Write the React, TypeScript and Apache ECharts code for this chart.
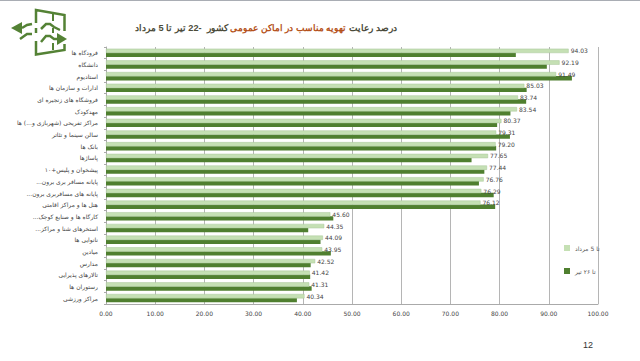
import React, { useEffect, useRef } from "react";
import * as echarts from "echarts";

const categories = [
  "فرودگاه ها", "دانشگاه", "استادیوم", "ادارات و سازمان ها", "فروشگاه های زنجیره ای", "مهدکودک",
  "مراکز تفریحی (شهربازی و...) ها", "سالن سینما و تئاتر", "بانک ها", "پاساژها", "پیشخوان و پلیس+۱۰",
  "پایانه مسافر بری برون...\u200f", "پایانه های مسافربری برون...\u200f", "هتل ها و مراکز اقامتی",
  "کارگاه ها و صنایع کوچک...\u200f", "استخرهای شنا و مراکز...\u200f", "نانوایی ها", "میادین", "مدارس",
  "تالارهای پذیرایی", "رستوران ها", "مراکز ورزشی",
];
const lightValues = [94.03, 92.19, 91.49, 85.03, 83.74, 83.54, 80.37, 79.31, 79.2, 77.65, 77.44, 76.76, 76.29, 76.12, 45.6, 44.35, 44.09, 43.95, 42.52, 41.42, 41.31, 40.34];
const darkValues = [83.3, 89.6, 94.7, 85.5, 85.4, 82.2, 79.5, 82.1, 79.3, 74.3, 76.9, 75.8, 78.8, 79.1, 46.2, 41.1, 43.6, 45.7, 41.6, 41.5, 41.8, 38.8];
const lightName = "تا 5 مرداد";
const darkName = "تا ۲۶ تیر";

const GREEN = "#548235";
const LIGHT = "#c5e0b4";
const DARK = "#4f7f2f";

export default function App() {
  const ref = useRef<HTMLDivElement>(null);
  useEffect(() => {
    const chart = echarts.init(ref.current!, undefined, { renderer: "svg" });
    chart.setOption({
      animation: false,
      backgroundColor: "#ffffff",
      textStyle: { fontFamily: "DejaVu Sans" },
      title: {
        left: 130,
        top: 18,
        text: "{d|تیر تا 5 مرداد}{d| 22}{d|-  }{d|کشور }{o|تهویه مناسب در اماکن عمومی}{d| درصد رعایت}",
        textStyle: {
          rich: {
            d: { fontSize: 9.2, fontWeight: "bold", color: "#4b4b3a", fontFamily: "Liberation Sans" },
            o: { fontSize: 9.2, fontWeight: "bold", color: "#b5521b", fontFamily: "Liberation Sans" },
          },
        },
      },
      legend: {
        orient: "vertical",
        left: 559,
        top: 240,
        itemWidth: 6,
        itemHeight: 6,
        itemGap: 17,
        itemStyle: { borderWidth: 0 },
        textStyle: { fontSize: 6, color: "#555" },
        data: [
          { name: lightName, icon: "rect" },
          { name: darkName, icon: "rect" },
        ],
      },
      grid: { left: 106, right: 42, top: 47, bottom: 57, containLabel: false },
      xAxis: {
        type: "value",
        min: 0,
        max: 100,
        interval: 10,
        axisLine: { show: true, lineStyle: { color: "#aaa" } },
        axisTick: { show: false },
        splitLine: { show: true, lineStyle: { color: "#b5b5b5", width: 1 } },
        axisLabel: {
          fontSize: 6,
          color: "#444",
          margin: 6,
          formatter: (v: number) => v.toFixed(2),
        },
      },
      yAxis: {
        type: "category",
        inverse: true,
        data: categories,
        axisLine: { show: true, lineStyle: { color: "#aaa" } },
        axisTick: { show: true, length: 2, lineStyle: { color: "#aaa" } },
        axisLabel: { fontSize: 6, color: "#444", margin: 8, interval: 0 },
      },
      series: [
        {
          name: lightName,
          type: "bar",
          data: lightValues,
          barWidth: 4.4,
          barGap: "-10%",
          itemStyle: { color: LIGHT, borderColor: "#a9c79a", borderWidth: 0.5 },
          label: {
            show: true,
            position: "right",
            distance: 2,
            fontSize: 6,
            color: "#444",
            formatter: (p: any) => p.value.toFixed(2),
          },
          z: 3,
        },
        {
          name: darkName,
          type: "bar",
          data: darkValues,
          barWidth: 4.4,
          itemStyle: { color: DARK },
          z: 2,
        },
      ],
      graphic: [
        { type: "rect", shape: { x: 0, y: 0, width: 640, height: 1 }, style: { fill: "#a9adb4" } },
        { type: "text", left: 583, top: 340, style: { text: "12", fontSize: 9, fill: "#333" } },
        {
          type: "polyline",
          shape: { points: [[36, 23], [36, 10], [64.5, 15], [64.5, 31]] },
          style: { stroke: GREEN, fill: "none", lineWidth: 2.5 },
        },
        {
          type: "polyline",
          shape: { points: [[36, 41], [36, 54.5], [64.5, 50], [64.5, 44]] },
          style: { stroke: GREEN, fill: "none", lineWidth: 2.5 },
        },
        {
          type: "polyline",
          shape: { points: [[36, 28], [36, 33]] },
          style: { stroke: GREEN, fill: "none", lineWidth: 2.5 },
        },
        {
          type: "polyline",
          shape: { points: [[53, 14], [53, 21]] },
          style: { stroke: GREEN, fill: "none", lineWidth: 2 },
        },
        {
          type: "polyline",
          shape: { points: [[53, 28], [53, 33]] },
          style: { stroke: GREEN, fill: "none", lineWidth: 2 },
        },
        {
          type: "polyline",
          shape: { points: [[53, 43], [53, 50]] },
          style: { stroke: GREEN, fill: "none", lineWidth: 2 },
        },
        {
          type: "polyline",
          shape: { points: [[32, 24], [27, 25], [22, 28]] },
          style: { stroke: GREEN, fill: "none", lineWidth: 2.5 },
        },
        { type: "polygon", shape: { points: [[11, 28], [22, 22], [22, 34]] }, style: { fill: GREEN } },
        {
          type: "polyline",
          shape: { points: [[32, 34], [27, 34], [20, 39]] },
          style: { stroke: GREEN, fill: "none", lineWidth: 2.5 },
        },
        {
          type: "polyline",
          shape: { points: [[41, 29], [46, 24], [50, 24], [54, 27], [60, 30]] },
          style: { stroke: GREEN, fill: "none", lineWidth: 2.5 },
        },
        {
          type: "polyline",
          shape: { points: [[41, 42], [46, 36], [50, 36], [54, 39], [60, 39]] },
          style: { stroke: GREEN, fill: "none", lineWidth: 2.5 },
        },
        { type: "polygon", shape: { points: [[67, 39], [57, 33], [57, 45]] }, style: { fill: GREEN } },
      ],
    });
    return () => chart.dispose();
  }, []);
  return <div ref={ref} style={{ position: "fixed", left: 0, top: 0, width: 640, height: 361 }} />;
}
